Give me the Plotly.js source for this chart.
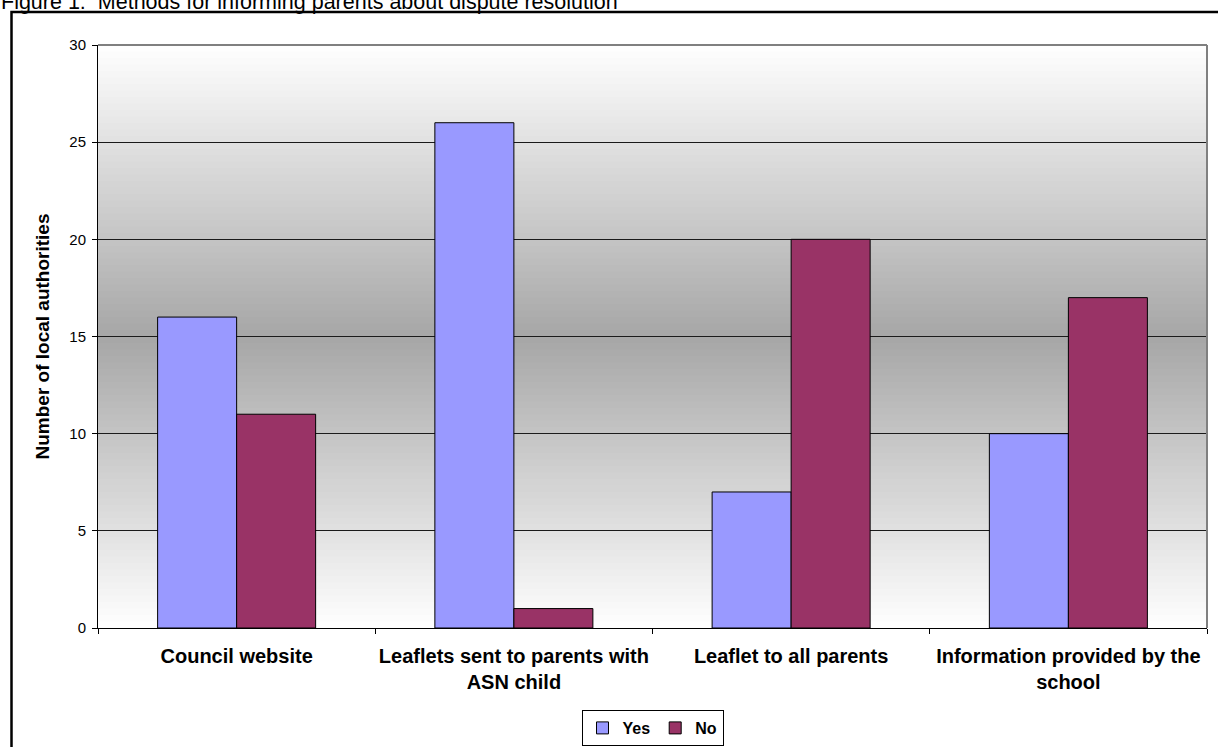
<!DOCTYPE html>
<html>
<head>
<meta charset="utf-8">
<script src="https://cdn.plot.ly/plotly-3.0.1.min.js"></script>
<style>
  html, body { margin: 0; padding: 0; background: #ffffff; }
  #chart { width: 1218px; height: 747px; }
</style>
</head>
<body>
<div id="chart"></div>
<script>
// ---- Data ----
const categories = [
  "Council website",
  "Leaflets sent to parents with<br>ASN child",
  "Leaflet to all parents",
  "Information provided by the<br>school"
];
const yesValues = [16, 26, 7, 10];
const noValues = [11, 1, 20, 17];
const seriesNames = ["Yes", "No"];
const yTicks = [0, 5, 10, 15, 20, 25, 30];
const chartTitle = "Figure 1:\u00a0 Methods for informing parents about dispute resolution";
const yAxisTitle = "Number of local authorities";

// ---- Layout geometry (pixels) ----
const W = 1218, H = 747;
const mL = 98, mR = 11, mT = 45, mB = 119;
const plotW = W - mL - mR, plotH = H - mT - mB;
const px2x = p => (p - mL) / plotW;
const px2y = p => (H - mB - p) / plotH;

const FONT = "Liberation Sans, Arial, Helvetica, sans-serif";

// background gradient (white -> grey -> white) built from thin bands
const shapes = [];
const N = 90;
const cMid = 166;
for (let i = 0; i < N; i++) {
  const y0 = i / N, y1 = (i + 1) / N;
  const t = Math.abs(((y0 + y1) / 2) - 0.5) * 2;
  const c = Math.round(cMid + (255 - cMid) * t);
  shapes.push({
    type: "rect", xref: "paper", yref: "paper", layer: "below",
    x0: 0, x1: 1, y0: y0, y1: y1 + 0.002,
    line: { width: 0 }, fillcolor: `rgb(${c},${c},${c})`
  });
}
// plot-area border (top & right, grey)
shapes.push({ type: "line", xref: "paper", yref: "paper", x0: 0, x1: 1, y0: 1, y1: 1,
  line: { color: "#808080", width: 2 }, layer: "above" });
shapes.push({ type: "line", xref: "paper", yref: "paper", x0: 1, x1: 1, y0: 0, y1: 1,
  line: { color: "#808080", width: 2 }, layer: "above" });
// outer chart border (black)
shapes.push({ type: "rect", xref: "paper", yref: "paper",
  x0: px2x(11.5), x1: px2x(1240), y0: px2y(780), y1: px2y(12),
  line: { color: "#000000", width: 2.5 }, fillcolor: "rgba(0,0,0,0)", layer: "above" });

const traces = [
  { type: "bar", name: seriesNames[0], x: categories, y: yesValues,
    marker: { color: "#9999FF", line: { color: "#000000", width: 1 } }, hoverinfo: "skip" },
  { type: "bar", name: seriesNames[1], x: categories, y: noValues,
    marker: { color: "#993366", line: { color: "#000000", width: 1 } }, hoverinfo: "skip" }
];

const layout = {
  width: W, height: H,
  margin: { l: mL, r: mR, t: mT, b: mB, pad: 0, autoexpand: false },
  paper_bgcolor: "#ffffff",
  plot_bgcolor: "rgba(0,0,0,0)",
  font: { family: FONT, color: "#000000" },
  barmode: "group",
  bargap: 0.43,
  bargroupgap: 0,
  showlegend: true,
  legend: {
    orientation: "h", x: 0.5, xanchor: "center", xref: "paper",
    y: px2y(710), yanchor: "top",
    bgcolor: "#ffffff", bordercolor: "#000000", borderwidth: 1,
    font: { family: FONT, size: 16, weight: "bold", color: "#000000" },
    itemwidth: 30, tracegroupgap: 0
  },
  xaxis: {
    type: "category",
    automargin: false,
    tickangle: 0,
    tickson: "boundaries",
    ticks: "outside", ticklen: 5, tickcolor: "#000000", tickwidth: 1,
    showline: true, linecolor: "#000000", linewidth: 1,
    showgrid: false, zeroline: false,
    ticklabelstandoff: 10,
    tickfont: { family: FONT, size: 20, weight: "bold", color: "#000000" },
    fixedrange: true
  },
  yaxis: {
    range: [0, 30],
    automargin: false,
    tickvals: yTicks,
    ticks: "outside", ticklen: 5, tickcolor: "#000000", tickwidth: 1,
    showline: true, linecolor: "#000000", linewidth: 1,
    showgrid: true, gridcolor: "#1a1a1a", gridwidth: 1,
    zeroline: false,
    ticklabelstandoff: 3,
    tickfont: { family: FONT, size: 15, color: "#000000" },
    title: { text: yAxisTitle, standoff: 14,
      font: { family: FONT, size: 19, weight: "bold", color: "#000000" } },
    fixedrange: true
  },
  shapes: shapes,
  annotations: [
    { text: chartTitle, xref: "paper", yref: "paper",
      x: px2x(-1), xanchor: "left", y: px2y(1.5), yanchor: "middle",
      showarrow: false, font: { family: FONT, size: 21.5, color: "#000000" } }
  ]
};

Plotly.newPlot("chart", traces, layout, { displayModeBar: false, staticPlot: true });
</script>
</body>
</html>
